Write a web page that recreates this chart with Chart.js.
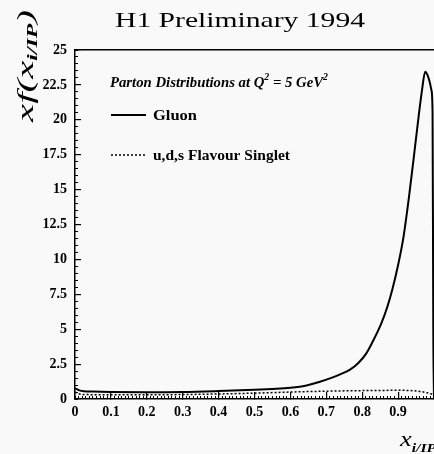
<!DOCTYPE html>
<html>
<head>
<meta charset="utf-8">
<script src="https://cdn.jsdelivr.net/npm/chart.js@4.4.0/dist/chart.umd.min.js"></script>
<style>
html, body { margin: 0; padding: 0; background: #f9f9f9; overflow: hidden; }
#wrap { width: 434px; height: 454px; }
</style>
</head>
<body>
<div id="wrap"><canvas id="c" width="434" height="454"></canvas></div>
<script>
// values
const xGluon = [0, 0.005, 0.012, 0.025, 0.05, 0.1, 0.2, 0.3, 0.4, 0.5, 0.55, 0.6, 0.626, 0.65, 0.68,
  0.718, 0.74, 0.765, 0.79, 0.811, 0.83, 0.853, 0.87, 0.883, 0.9, 0.915, 0.93, 0.945, 0.957, 0.967,
  0.9755, 0.982, 0.988, 0.993, 0.996, 0.998, 1.0]
const gluon = [0.78, 0.7, 0.62, 0.56, 0.53, 0.5, 0.48, 0.5, 0.57, 0.66, 0.72, 0.8, 0.88, 1.0, 1.22,
  1.55, 1.78, 2.08, 2.6, 3.25, 4.15, 5.4, 6.6, 7.75, 9.6, 11.6, 14.4, 17.6, 20.2, 22.2,
  23.45, 23.2, 22.7, 22.1, 20.5, 5, 0]

const xSinglet = [0, 0.01, 0.03, 0.1, 0.2, 0.3, 0.4, 0.5, 0.6, 0.7, 0.8, 0.9, 0.95, 0.98, 1.0]
const singlet = [0.5, 0.38, 0.32, 0.3, 0.3, 0.32, 0.36, 0.42, 0.5, 0.56, 0.6, 0.62, 0.58, 0.45, 0.3]

const xTickLabels = ['0', '0.1', '0.2', '0.3', '0.4', '0.5', '0.6', '0.7', '0.8', '0.9', '']
const yTickLabels = ['0', '2.5', '5', '7.5', '10', '12.5', '15', '17.5', '20', '22.5', '25']

const serif = '"Liberation Serif", "Times New Roman", serif'

// draws a run of text pieces, squeezed/stretched to a given width
function drawPieces(ctx, pieces, x, y, width, angle) {
    let total = 0
    pieces.forEach(p => {
        ctx.font = p.font
        p.w = ctx.measureText(p.text).width
        total += p.w
    })
    ctx.save()
    ctx.translate(x, y)
    if (angle) ctx.rotate(angle)
    ctx.scale(width ? width / total : 1, 1)
    ctx.fillStyle = '#000'
    ctx.textBaseline = 'alphabetic'
    ctx.textAlign = 'left'
    let cx = 0
    pieces.forEach(p => {
        ctx.font = p.font
        ctx.fillText(p.text, cx, p.dy || 0)
        cx += p.w
    })
    ctx.restore()
}

const textPlugin = {
    id: 'texts',
    afterDraw(chart) {
        const ctx = chart.ctx
        const it = 'italic '
        drawPieces(ctx, [{ text: 'H1 Preliminary 1994', font: '21px ' + serif }], 115, 27, 250)

        // y axis title, rotated
        drawPieces(ctx, [
            { text: 'xf(x', font: it + '24px ' + serif },
            { text: 'i/IP', font: it + 'bold 14px ' + serif, dy: 4 },
            { text: ')', font: it + '24px ' + serif }
        ], 33, 122, 112, -Math.PI / 2)

        // x axis title
        drawPieces(ctx, [
            { text: 'x', font: it + '22px ' + serif },
            { text: 'i/IP', font: it + 'bold 13px ' + serif, dy: 6 }
        ], 400, 446, 36)

        // legend
        drawPieces(ctx, [
            { text: 'Parton Distributions at Q', font: it + 'bold 15px ' + serif },
            { text: '2', font: it + 'bold 10px ' + serif, dy: -7 },
            { text: ' = 5 GeV', font: it + 'bold 15px ' + serif },
            { text: '2', font: it + 'bold 10px ' + serif, dy: -7 }
        ], 110, 87, 218)

        const rows = [{ y: 115, text: 'Gluon', w: 44 }, { y: 155, text: 'u,d,s Flavour Singlet', w: 137 }]
        rows.forEach((row, i) => {
            const ds = chart.data.datasets[i]
            ctx.save()
            ctx.strokeStyle = '#000'
            ctx.lineWidth = ds.borderWidth
            ctx.setLineDash(ds.borderDash || [])
            ctx.beginPath()
            ctx.moveTo(111, row.y)
            ctx.lineTo(146, row.y)
            ctx.stroke()
            ctx.restore()
            drawPieces(ctx, [{ text: row.text, font: 'bold 15px ' + serif }], 153, row.y + 5, row.w)
        })
    }
}

function fixHeight(h) {
    return s => { s.height = h; s.paddingLeft = 0; s.paddingRight = 0 }
}
function fixWidth(w) {
    return s => { s.width = w; s.paddingTop = 0; s.paddingBottom = 0 }
}

const ctx = document.getElementById('c').getContext('2d')
const chart = new Chart(ctx, {
    type: 'line',
    data: {
        datasets: [{
            label: 'Gluon',
            data: xGluon.map((x, i) => ({ x: x, y: gluon[i] })),
            borderColor: '#000',
            borderWidth: 2,
            pointRadius: 0,
            cubicInterpolationMode: 'monotone',
            fill: false
        }, {
            label: 'u,d,s Flavour Singlet',
            data: xSinglet.map((x, i) => ({ x: x, y: singlet[i] })),
            borderColor: '#000',
            borderWidth: 1.5,
            borderDash: [2, 2],
            pointRadius: 0,
            cubicInterpolationMode: 'monotone',
            fill: false
        }]
    },
    options: {
        responsive: false,
        animation: false,
        layout: { autoPadding: false, padding: { top: 50, right: 0, left: 0, bottom: 0 } },
        plugins: { legend: { display: false }, tooltip: { enabled: false } },
        scales: {
            x: {
                type: 'linear', position: 'bottom', min: 0, max: 1, weight: 1,
                ticks: {
                    stepSize: 0.1, padding: 12, color: '#000', maxRotation: 0, autoSkip: false,
                    font: { family: serif, size: 14, weight: 'bold' },
                    callback: v => xTickLabels[Math.round(v * 10)]
                },
                grid: { drawOnChartArea: false, tickLength: -7, color: '#000', lineWidth: 1.2 },
                border: { color: '#000', width: 1.5 },
                afterFit: fixHeight(55)
            },
            xMinor: {
                type: 'linear', position: 'bottom', min: 0, max: 1, weight: 0,
                ticks: { display: false, stepSize: 0.01 },
                grid: { drawOnChartArea: false, tickLength: -3, color: '#000', lineWidth: 1 },
                border: { display: false },
                afterFit: fixHeight(0)
            },
            xTop: {
                type: 'linear', position: 'top', min: 0, max: 1,
                ticks: { display: false },
                grid: { display: false },
                border: { color: '#000', width: 1.5 },
                afterFit: fixHeight(0)
            },
            y: {
                type: 'linear', position: 'left', min: 0, max: 25, weight: 1,
                ticks: {
                    stepSize: 2.5, padding: 14, color: '#000', autoSkip: false,
                    font: { family: serif, size: 14, weight: 'bold' },
                    callback: v => yTickLabels[Math.round(v / 2.5)]
                },
                grid: { drawOnChartArea: false, tickLength: -6, color: '#000', lineWidth: 1.2 },
                border: { color: '#000', width: 1.5 },
                afterFit: fixWidth(75)
            },
            yMinor: {
                type: 'linear', position: 'left', min: 0, max: 25, weight: 0,
                ticks: { display: false, stepSize: 0.5 },
                grid: { drawOnChartArea: false, tickLength: -3, color: '#000', lineWidth: 1 },
                border: { display: false },
                afterFit: fixWidth(0)
            }
        }
    },
    plugins: [textPlugin]
})
</script>
</body>
</html>
